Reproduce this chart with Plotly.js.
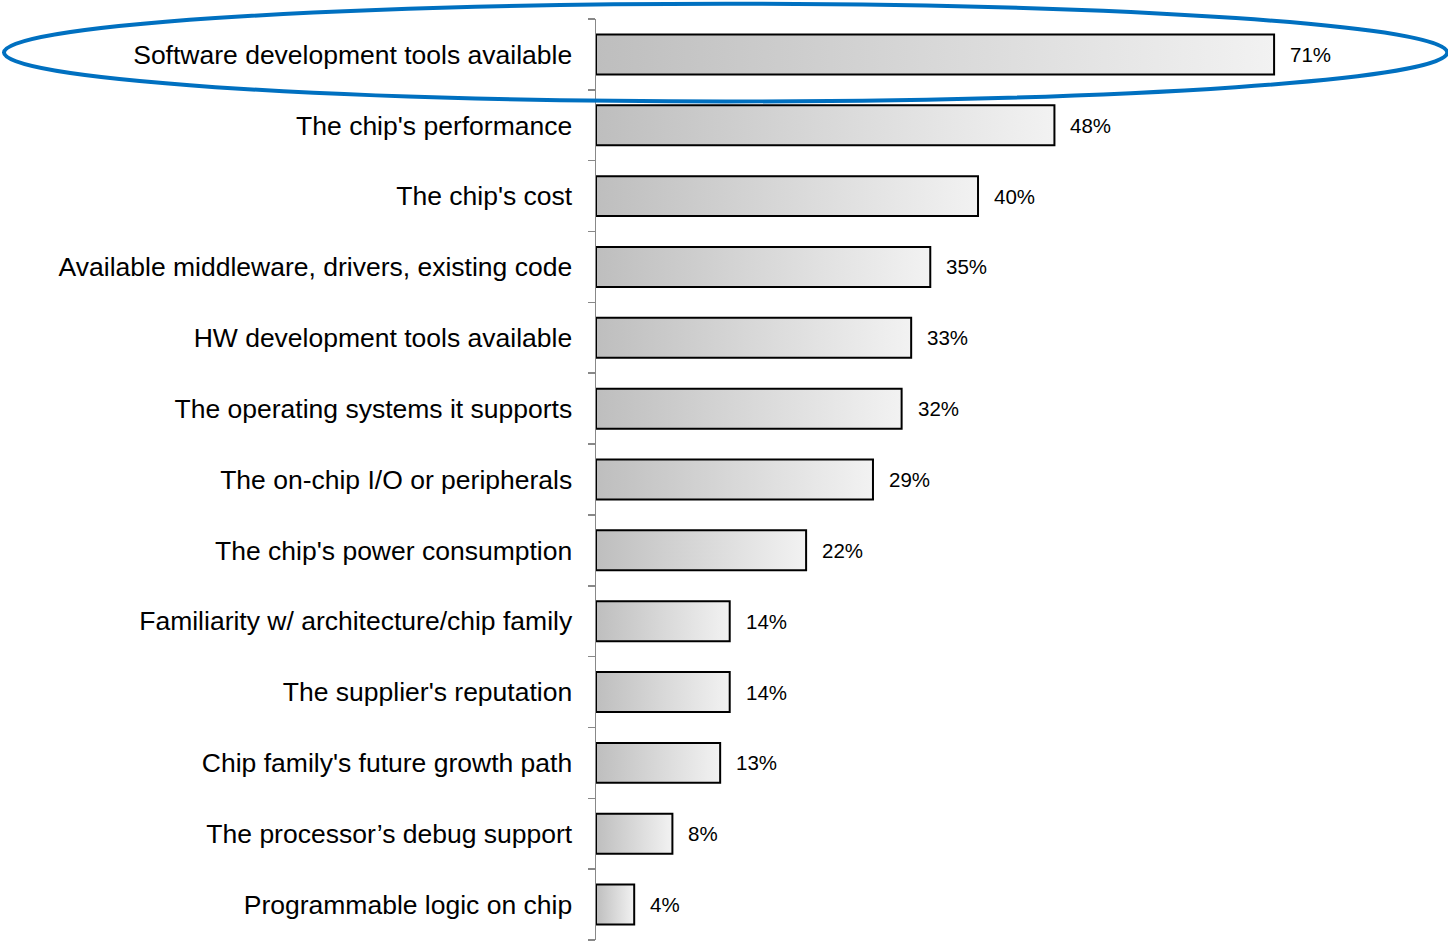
<!DOCTYPE html>
<html>
<head>
<meta charset="utf-8">
<script src="https://cdn.plot.ly/plotly-3.0.1.min.js"></script>
<style>html,body{margin:0;padding:0;background:#fff;}#chart{width:1448px;height:944px;}</style>
</head>
<body>
<div id="chart"></div>
<script>
const categories = [
  "Software development tools available",
  "The chip's performance",
  "The chip's cost",
  "Available middleware, drivers, existing code",
  "HW development tools available",
  "The operating systems it supports",
  "The on-chip I/O or peripherals",
  "The chip's power consumption",
  "Familiarity w/ architecture/chip family",
  "The supplier's reputation",
  "Chip family's future growth path",
  "The processor\u2019s debug support",
  "Programmable logic on chip"
];
const values = [71, 48, 40, 35, 33, 32, 29, 22, 14, 14, 13, 8, 4];
const valueLabels = values.map(v => v + "%");

const FONT = "Liberation Sans, Arial, sans-serif";
const halfBar = 0.282;

const traces = categories.map((c, i) => ({
  type: "scatter",
  mode: "lines",
  x: [0, values[i], values[i], 0, 0],
  y: [i - halfBar, i - halfBar, i + halfBar, i + halfBar, i - halfBar],
  fill: "toself",
  fillgradient: {type: "horizontal", colorscale: [[0, "#bebebe"], [1, "#f2f2f2"]]},
  line: {color: "#000000", width: 2},
  hoverinfo: "skip",
  showlegend: false,
  name: c
}));

const annotations = categories.map((c, i) => ({
  x: values[i], y: i, xref: "x", yref: "y",
  text: valueLabels[i], showarrow: false,
  xanchor: "left", yanchor: "middle", xshift: 14,
  font: {family: FONT, size: 20.5, color: "#000000"}
}));

const layout = {
  width: 1448, height: 944,
  margin: {l: 596, r: 2, t: 18.5, b: 3.5},
  paper_bgcolor: "#ffffff", plot_bgcolor: "#ffffff",
  showlegend: false,
  xaxis: {range: [0, 89], visible: false, fixedrange: true},
  yaxis: {
    range: [12.5, -0.5],
    tickmode: "array",
    tickvals: categories.map((c, i) => i),
    ticktext: categories,
    ticks: "outside", ticklen: 7, tickcolor: "rgba(0,0,0,0)",
    ticklabelstandoff: 10,
    showline: true, linecolor: "#888888", linewidth: 1.5,
    showgrid: false, zeroline: false,
    tickfont: {family: FONT, size: 26.5, color: "#000000"},
    minor: {tickmode: "linear", tick0: -0.5, dtick: 1, ticks: "outside", ticklen: 7, tickcolor: "#888888", tickwidth: 1.5, showgrid: false}
  },
  annotations: annotations,
  shapes: [{
    type: "circle", xref: "paper", yref: "paper",
    x0: -0.6965, x1: 1.0015, y0: 0.9105, y1: 1.0165,
    line: {color: "#0070c0", width: 4},
    fillcolor: "rgba(0,0,0,0)", layer: "above"
  }]
};

Plotly.newPlot("chart", traces, layout, {displayModeBar: false, staticPlot: true});
</script>
</body>
</html>
